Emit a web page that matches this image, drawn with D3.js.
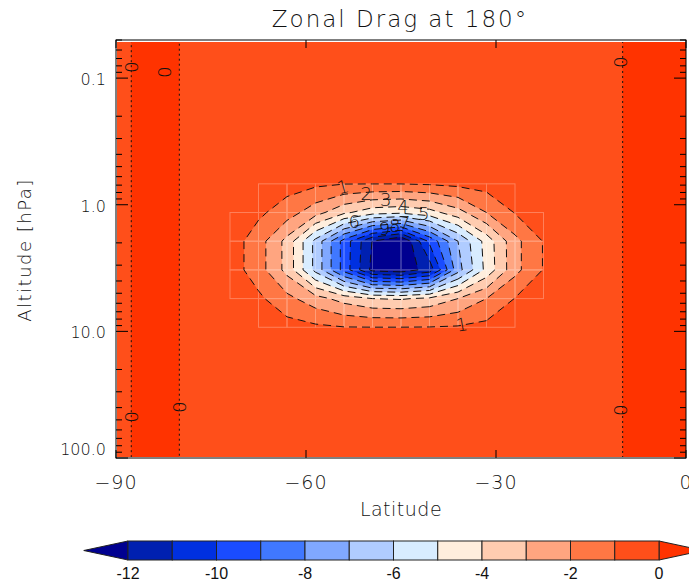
<!DOCTYPE html>
<html>
<head>
<meta charset="utf-8">
<script src="https://cdn.jsdelivr.net/npm/d3@7"></script>
<style>
  body { margin: 0; background: #fff; }
  svg text { font-family: "DejaVu Sans", sans-serif; fill: #111; }
</style>
</head>
<body>
<svg id="chart" width="689" height="582"></svg>
<script>
// grid of the model field
const latitudes = [-90, -85.5, -81, -76.5, -72, -67.5, -63, -58.5, -54, -49.5, -45,
                   -40.5, -36, -31.5, -27, -22.5, -18, -13.5, -9, -4.5, 0];
const pressureLevels = [0.050, 0.085, 0.143, 0.241, 0.406, 0.684, 1.152, 1.94,
                        3.27, 5.51, 9.28, 15.6, 26.3, 44.4, 74.7, 126];

// zonal drag, one row per pressure level (top to bottom), one column per latitude
const zonalDrag = [
  [-0.3, 0.26, 0.1, -0.35, -0.45, -0.5, -0.5, -0.5, -0.5, -0.5, -0.5, -0.5, -0.5, -0.5, -0.5, -0.5, -0.45, -0.35, 0.1, 0.3, 0.35],
  [-0.3, 0.26, 0.1, -0.35, -0.45, -0.5, -0.5, -0.5, -0.5, -0.5, -0.5, -0.5, -0.5, -0.5, -0.5, -0.5, -0.45, -0.35, 0.1, 0.3, 0.35],
  [-0.3, 0.26, 0.1, -0.35, -0.45, -0.5, -0.5, -0.5, -0.5, -0.5, -0.5, -0.5, -0.5, -0.5, -0.5, -0.5, -0.45, -0.35, 0.1, 0.3, 0.35],
  [-0.3, 0.26, 0.1, -0.35, -0.45, -0.5, -0.5, -0.5, -0.5, -0.5, -0.5, -0.5, -0.5, -0.5, -0.5, -0.5, -0.45, -0.35, 0.1, 0.3, 0.35],
  [-0.3, 0.26, 0.1, -0.35, -0.45, -0.5, -0.5, -0.5, -0.55, -0.55, -0.55, -0.5, -0.5, -0.5, -0.5, -0.5, -0.45, -0.35, 0.1, 0.3, 0.35],
  [-0.3, 0.26, 0.1, -0.35, -0.45, -0.5, -0.6, -0.8, -0.98, -0.99, -0.99, -0.9, -0.75, -0.6, -0.5, -0.5, -0.45, -0.35, 0.1, 0.3, 0.35],
  [-0.3, 0.26, 0.1, -0.35, -0.45, -0.8, -1.5, -2.6, -3.8, -4.6, -4.8, -4.4, -3.4, -2.0, -0.95, -0.5, -0.45, -0.35, 0.1, 0.3, 0.35],
  [-0.3, 0.26, 0.1, -0.35, -0.48, -1.54, -3.32, -6.3, -9.4, -12.05, -13.2, -9.8, -7.0, -4.6, -2.3, -0.95, -0.45, -0.35, 0.1, 0.3, 0.35],
  [-0.3, 0.26, 0.1, -0.35, -0.48, -1.54, -3.32, -6.3, -9.4, -12.3, -12.6, -11.6, -7.4, -4.7, -2.3, -0.95, -0.45, -0.35, 0.1, 0.3, 0.35],
  [-0.3, 0.26, 0.1, -0.35, -0.45, -0.8, -1.7, -2.6, -3.4, -4.0, -4.1, -3.8, -3.0, -2.0, -0.97, -0.5, -0.45, -0.35, 0.1, 0.3, 0.35],
  [-0.3, 0.26, 0.1, -0.35, -0.45, -0.5, -0.6, -0.8, -0.97, -0.99, -0.99, -0.97, -0.9, -0.7, -0.55, -0.5, -0.45, -0.35, 0.1, 0.3, 0.35],
  [-0.3, 0.26, 0.1, -0.35, -0.45, -0.5, -0.5, -0.5, -0.55, -0.55, -0.55, -0.55, -0.5, -0.5, -0.5, -0.5, -0.45, -0.35, 0.1, 0.3, 0.35],
  [-0.3, 0.26, 0.1, -0.35, -0.45, -0.5, -0.5, -0.5, -0.5, -0.5, -0.5, -0.5, -0.5, -0.5, -0.5, -0.5, -0.45, -0.35, 0.1, 0.3, 0.35],
  [-0.3, 0.26, 0.1, -0.35, -0.45, -0.5, -0.5, -0.5, -0.5, -0.5, -0.5, -0.5, -0.5, -0.5, -0.5, -0.5, -0.45, -0.35, 0.1, 0.3, 0.35],
  [-0.3, 0.26, 0.1, -0.35, -0.45, -0.5, -0.5, -0.5, -0.5, -0.5, -0.5, -0.5, -0.5, -0.5, -0.5, -0.5, -0.45, -0.35, 0.1, 0.3, 0.35],
  [-0.3, 0.26, 0.1, -0.35, -0.45, -0.5, -0.5, -0.5, -0.5, -0.5, -0.5, -0.5, -0.5, -0.5, -0.5, -0.5, -0.45, -0.35, 0.1, 0.3, 0.35]
];

const contourLevels = [-12, -11, -10, -9, -8, -7, -6, -5, -4, -3, -2, -1, 0];
// colour of the band just above each level, plus the colour below the lowest one
const bandColors = ["#0020b0", "#0030e0", "#1a4cff", "#4078ff", "#80a8ff", "#b0ccff",
                    "#d8ecff", "#ffeedd", "#ffccb0", "#ffa580", "#ff7744", "#ff4f1a", "#ff3300"];
const underColor = "#000090";

const colorbarTicks = [-12, -10, -8, -6, -4, -2, 0];
const xTicks = [-90, -60, -30, 0];
const xTickLabels = ["\u221290", "\u221260", "\u221230", "0"];
const yTicks = [0.1, 1, 10, 100];
const yTickLabels = ["0.1", "1.0", "10.0", "100.0"];

// contour labels as IDL placed them (lat, pressure)
const contourLabels = [
  { t: "1", lat: -54.2, p: 0.72, r: -15 }, { t: "2", lat: -50.5, p: 0.82, r: 0 },
  { t: "3", lat: -47.4, p: 0.91, r: 0 }, { t: "4", lat: -44.7, p: 1.04, r: 0 },
  { t: "5", lat: -41.4, p: 1.18, r: 0 }, { t: "6", lat: -52.4, p: 1.36, r: 0 },
  { t: "9", lat: -47.6, p: 1.53, r: 0 }, { t: "8", lat: -46.0, p: 1.46, r: 0 },
  { t: "7", lat: -44.4, p: 1.38, r: 0 }, { t: "1", lat: -35.4, p: 8.8, r: -10 },
  { t: "0", lat: -87.6, p: 0.082, r: 90 }, { t: "0", lat: -82.3, p: 0.090, r: 90 },
  { t: "0", lat: -87.6, p: 47.5, r: 90 }, { t: "0", lat: -79.9, p: 39.8, r: 90 },
  { t: "0", lat: -10.3, p: 0.075, r: 90 }, { t: "0", lat: -10.3, p: 41.9, r: 90 }
];

const svg = d3.select("#chart");

const x = d3.scaleLinear().domain([-90, 0]).range([116, 686]);
const y = d3.scaleLog().domain([0.05, 100]).range([40, 458]);

// grid index -> pixel (d3.contours puts sample i at i + 0.5)
const gx = d3.scaleLinear().domain(latitudes.map((d, i) => i + 0.5)).range(latitudes.map(d => x(d)));
const gy = d3.scaleLinear().domain(pressureLevels.map((d, i) => i + 0.5)).range(pressureLevels.map(d => y(d)));
const path = d3.geoPath(d3.geoTransform({
  point(px, py) { this.stream.point(gx(px), gy(py)); }
}));

const contours = d3.contours()
  .size([latitudes.length, pressureLevels.length])
  .thresholds(contourLevels)(zonalDrag.flat());

svg.append("clipPath").attr("id", "plotClip")
  .append("rect").attr("x", 117).attr("y", 42).attr("width", 569).attr("height", 415);

const plot = svg.append("g").attr("clip-path", "url(#plotClip)");

plot.append("rect")
  .attr("x", 116).attr("y", 40).attr("width", 570).attr("height", 418)
  .attr("fill", underColor);

plot.selectAll("path.band")
  .data(contours)
  .enter()
  .append("path")
  .attr("class", "band")
  .attr("d", path)
  .attr("fill", (d, i) => bandColors[i]);

// faint cell outlines where the fill was split into cells
const cells = [];
for (let j = 0; j < pressureLevels.length - 1; j++) {
  for (let i = 0; i < latitudes.length - 1; i++) {
    const m = Math.min(zonalDrag[j][i], zonalDrag[j][i + 1], zonalDrag[j + 1][i], zonalDrag[j + 1][i + 1]);
    if (m < -1) cells.push({ i, j });
  }
}
plot.append("g")
  .attr("opacity", 0.28)
  .selectAll("rect")
  .data(cells)
  .enter()
  .append("rect")
  .attr("x", d => x(latitudes[d.i]))
  .attr("y", d => y(pressureLevels[d.j]))
  .attr("width", d => x(latitudes[d.i + 1]) - x(latitudes[d.i]))
  .attr("height", d => y(pressureLevels[d.j + 1]) - y(pressureLevels[d.j]))
  .attr("fill", "none")
  .attr("stroke", "#fff")
  .attr("stroke-width", 1);

plot.selectAll("path.line")
  .data(contours)
  .enter()
  .append("path")
  .attr("class", "line")
  .attr("d", path)
  .attr("fill", "none")
  .attr("stroke", "#111")
  .attr("stroke-width", 1)
  .attr("stroke-dasharray", d => d.value === 0 ? "2,3" : "8,5");

plot.selectAll("text.clab")
  .data(contourLabels)
  .enter()
  .append("text")
  .attr("class", "clab")
  .attr("transform", d => `translate(${x(d.lat)},${y(d.p)}) rotate(${d.r})`)
  .attr("text-anchor", "middle")
  .attr("dominant-baseline", "central")
  .attr("font-size", 18)
  .attr("font-weight", 200)
  .text(d => d.t);

// frame and ticks
svg.append("rect")
  .attr("x", 116).attr("y", 40).attr("width", 570).attr("height", 418)
  .attr("fill", "none").attr("stroke", "#000").attr("stroke-width", 1);

const ticks = svg.append("g").attr("stroke", "#000").attr("stroke-width", 1);
xTicks.forEach(v => {
  ticks.append("line").attr("x1", x(v)).attr("x2", x(v)).attr("y1", 458).attr("y2", 450);
  ticks.append("line").attr("x1", x(v)).attr("x2", x(v)).attr("y1", 40).attr("y2", 48);
});
y.ticks().forEach(v => {
  const major = yTicks.some(t => Math.abs(t - v) < 1e-9);
  const len = major ? 12 : 6;
  ticks.append("line").attr("x1", 116).attr("x2", 116 + len).attr("y1", y(v)).attr("y2", y(v));
  ticks.append("line").attr("x1", 686).attr("x2", 686 - len).attr("y1", y(v)).attr("y2", y(v));
});

svg.selectAll("text.xt")
  .data(xTicks)
  .enter()
  .append("text")
  .attr("class", "xt")
  .attr("x", d => x(d))
  .attr("y", 489)
  .attr("text-anchor", "middle")
  .attr("font-size", 19)
  .attr("font-weight", 200)
  .style("letter-spacing", "1px")
  .text((d, i) => xTickLabels[i]);

svg.selectAll("text.yt")
  .data(yTicks)
  .enter()
  .append("text")
  .attr("class", "yt")
  .attr("x", 106)
  .attr("y", d => Math.min(y(d) + 7, 455))
  .attr("text-anchor", "end")
  .attr("font-size", 16)
  .attr("font-weight", 200)
  .text((d, i) => yTickLabels[i]);

svg.append("text")
  .attr("x", 401).attr("y", 516)
  .attr("text-anchor", "middle")
  .attr("font-size", 19).attr("font-weight", 200)
  .style("letter-spacing", "0.5px")
  .text("Latitude");

svg.append("text")
  .attr("transform", "translate(31,250) rotate(-90)")
  .attr("text-anchor", "middle")
  .attr("font-size", 18).attr("font-weight", 200)
  .style("letter-spacing", "1.5px")
  .text("Altitude [hPa]");

svg.append("text")
  .attr("x", 400).attr("y", 27)
  .attr("text-anchor", "middle")
  .attr("font-size", 23).attr("font-weight", 200)
  .style("letter-spacing", "2px")
  .text("Zonal Drag at 180\u00b0");

// colour bar
const cb = d3.scaleLinear().domain([-12, 0]).range([128, 659]);
const cbTop = 541, cbBot = 560, cbMid = (cbTop + cbBot) / 2;
const cbar = svg.append("g");
cbar.append("path")
  .attr("d", `M${cb(-12)},${cbTop}L${cb(-13)},${cbMid}L${cb(-12)},${cbBot}Z`)
  .attr("fill", underColor).attr("stroke", "#222").attr("stroke-width", 1);
cbar.append("path")
  .attr("d", `M${cb(0)},${cbTop}L${cb(1)},${cbMid}L${cb(0)},${cbBot}Z`)
  .attr("fill", bandColors[12]).attr("stroke", "#222").attr("stroke-width", 1);
cbar.selectAll("rect")
  .data(contourLevels.slice(0, 12))
  .enter()
  .append("rect")
  .attr("x", d => cb(d))
  .attr("y", cbTop)
  .attr("width", d => cb(d + 1) - cb(d))
  .attr("height", cbBot - cbTop)
  .attr("fill", (d, i) => bandColors[i])
  .attr("stroke", "#222")
  .attr("stroke-width", 1);

cbar.selectAll("text")
  .data(colorbarTicks)
  .enter()
  .append("text")
  .attr("x", d => cb(d))
  .attr("y", 579)
  .attr("text-anchor", "middle")
  .attr("font-size", 16)
  .style("font-family", "'Liberation Sans', Arial, sans-serif")
  .text(d => d);
</script>
</body>
</html>
